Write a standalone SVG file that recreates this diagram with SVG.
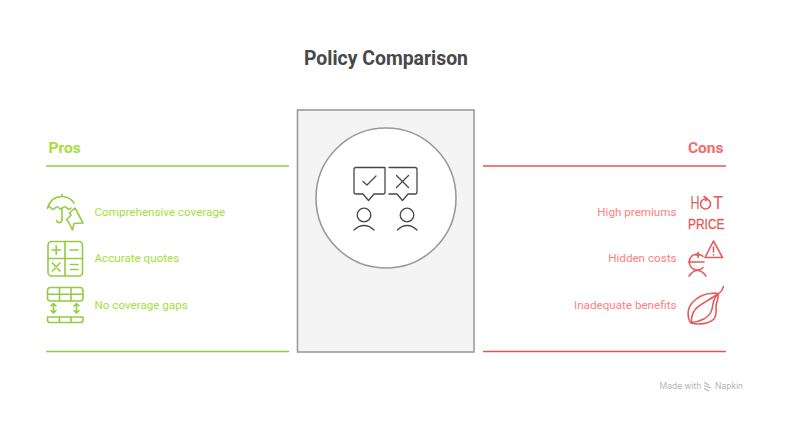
<svg xmlns="http://www.w3.org/2000/svg" width="802" height="432" viewBox="0 0 802 432">
<style>
text{font-family:Roboto,"Liberation Sans",sans-serif}
.title{font-size:19.400px;font-weight:700;fill:#484848;text-anchor:middle}
.hp{font-size:15.500px;font-weight:700;fill:#a5e03c}
.hc{font-size:15.500px;font-weight:700;fill:#f56a6a;text-anchor:end}
.lp{font-size:11.650px;fill:#a5e03c}
.lc{font-size:11.650px;fill:#ff8080;text-anchor:end}
.ip{fill:none;stroke:#94cb42;stroke-width:1.600;stroke-linecap:round;stroke-linejoin:round}
.ic{fill:none;stroke:#e45b5b;stroke-width:1.600;stroke-linecap:round;stroke-linejoin:round}
.it{fill:#e45b5b;font-family:"Liberation Sans",sans-serif}
.ig{fill:none;stroke:#484848;stroke-width:1.300;stroke-linecap:round;stroke-linejoin:round}
.gl{stroke:#94cb42;stroke-width:1.300}
.rl{stroke:#e25555;stroke-width:1.300}
</style>
<rect width="802" height="432" fill="#fff"/>
<text class="title" x="386" y="65">Policy Comparison</text>
<g id="center-panel">
<rect x="297.500" y="110" width="176.500" height="242" fill="#f4f4f4" stroke="#9a9a9a" stroke-width="1.600"/>
<circle cx="386" cy="198" r="70" fill="#fff" stroke="#9a9a9a" stroke-width="1.600"/>
<path class="ig" d="M356 167.500H385V192a2 2 0 0 1-2 2H374L368.500 200.500L363 194H356a2 2 0 0 1-2-2V169.500a2 2 0 0 1 2-2Z"/>
<path class="ig" d="M363 181.500L367 185L376 176"/>
<path class="ig" d="M389 167.500H415a2 2 0 0 1 2 2V192a2 2 0 0 1-2 2H408L402.500 200.500L397 194H389"/>
<path class="ig" d="M396.500 175.500L408.500 187.500M408.500 175.500L396.500 187.500"/>
<circle class="ig" cx="364" cy="215" r="6.800"/>
<circle class="ig" cx="407" cy="215" r="6.800"/>
<path class="ig" d="M354 230C360 224 368 224 374 230M397.500 230C403 224 411 224 417 230"/>
</g>
<g id="pros">
<text class="hp" x="48.500" y="152.500">Pros</text>
<line class="gl" x1="46" y1="166" x2="289" y2="166"/>
<line class="gl" x1="46" y1="351.500" x2="289" y2="351.500"/>
</g>
<g id="pro-coverage">
<path class="ip" d="M47.500 208C50 200 56 196.500 62 196.500C67 196.500 71 198.500 74 203M62 196.500V194.500"/>
<path class="ip" d="M47.500 208Q49.500 205.500 51 208Q53 210.500 55 208Q57 205.500 59 208Q60.500 210 62.500 208Q65 205.500 67 208Q69 210.500 71 208"/>
<path class="ip" d="M62 208V220A2.800 2.800 0 0 1 56.500 220.500"/>
<path class="ip" d="M75 208L83 223L74 223.500L72.500 230L68.500 222L66.500 219.500L71 215.500L69.500 213Z"/>
<text class="lp" x="94.500" y="216">Comprehensive coverage</text>
</g>
<g id="pro-quotes">
<rect class="ip" x="48" y="241.500" width="34.500" height="34.500" rx="3.500"/>
<path class="ip" d="M65 241.500V276M48 258.500H82.500M52 250H60.500M56.200 245.700V254.300M70 250H78M52.500 263L60 271M60 263L52.500 271M70.500 264.500H78M70.500 269.500H78"/>
<text class="lp" x="94.500" y="262">Accurate quotes</text>
</g>
<g id="pro-gaps">
<rect class="ip" x="47.500" y="287.500" width="35.500" height="13.500" rx="3"/>
<path class="ip" d="M47.500 294.200H83M59.500 287.500V301M71 287.500V301"/>
<path class="ip" d="M53.500 303.500V313M51 306L53.500 303.500L56 306M51 310.500L53.500 313L56 310.500M76.500 303.500V313M74 306L76.500 303.500L79 306M74 310.500L76.500 313L79 310.500"/>
<path class="ip" d="M47.500 317H83V320a2.500 2.500 0 0 1-2.500 2.500H50a2.500 2.500 0 0 1-2.500-2.500ZM59.500 317.500V322.500M71 317.500V322.500"/>
<text class="lp" x="94.500" y="309">No coverage gaps</text>
</g>
<g id="cons">
<text class="hc" x="723.500" y="152.500">Cons</text>
<line class="rl" x1="483" y1="166" x2="726" y2="166"/>
<line class="rl" x1="483" y1="351.500" x2="726" y2="351.500"/>
</g>
<g id="con-premiums">
<text class="it" x="690.500" y="209" font-size="18" textLength="9" lengthAdjust="spacingAndGlyphs">H</text>
<circle class="ic" cx="705.500" cy="204" r="5"/>
<path class="ic" d="M704 196.500L707.500 199L705.500 200.500"/>
<text class="it" x="713" y="209" font-size="18" textLength="10" lengthAdjust="spacingAndGlyphs">T</text>
<text class="it" x="688" y="228.500" font-size="14" textLength="36.500" lengthAdjust="spacingAndGlyphs" stroke="#e45b5b" stroke-width="0.300">PRICE</text>
<text class="lc" x="676.500" y="216">High premiums</text>
</g>
<g id="con-costs">
<path class="ic" d="M713.500 241L722.500 257.500H705Z"/>
<path class="ic" d="M713.500 247V252M713.500 254.800V255"/>
<path class="ic" d="M703 256.500A8 8 0 1 0 703 267.500M688.500 262H704M695.500 255H701M698.200 252.500V257.500"/>
<path class="ic" d="M689 276Q693 270.500 697.500 270.500Q702 270.500 706 276"/>
<text class="lc" x="676.500" y="262">Hidden costs</text>
</g>
<g id="con-benefits">
<path class="ic" d="M691 323C687 318 687 309 692 303C697 297 705 293.500 711 293.500C714 293 717 293 718 294C719 298 716 303 716 307C716 311 717 315 714 319C709 324 698 325 691 323Z"/>
<path class="ic" d="M691.500 322.500C691 315 693 310 699 306C705 302 712 298 718 294L721.500 291L723.500 286.500"/>
<path class="ic" d="M691.500 322.500C700 322 708 318 711 312C714 306 711 301 718 294"/>
<text class="lc" x="676.500" y="309">Inadequate benefits</text>
</g>
<g id="watermark">
<text x="659.500" y="389" font-size="8.500" fill="#b5b5b5" style="font-family:Inter,sans-serif">Made with</text>
<path d="M704 382.500L709 385M704 385.500L711 388M704 388.500L709 391" fill="none" stroke="#b5b5b5" stroke-width="1.200"/>
<text x="715" y="389" font-size="8.500" fill="#b5b5b5" style="font-family:Inter,sans-serif">Napkin</text>
</g>
</svg>
